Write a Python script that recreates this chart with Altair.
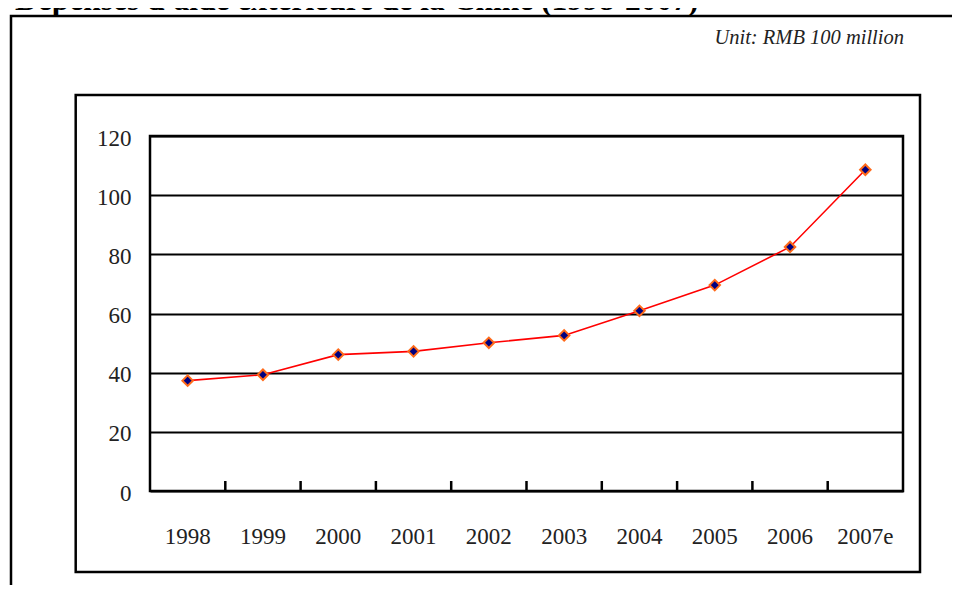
import altair as alt
import pandas as pd

years = ["1998", "1999", "2000", "2001", "2002", "2003", "2004", "2005", "2006", "2007e"]
values = [37.3, 39.3, 46.1, 47.2, 50.1, 52.6, 60.9, 69.6, 82.5, 108.6]
y_ticks = [0, 20, 40, 60, 80, 100, 120]
title_text = "Dépenses d'aide extérieure de la Chine (1998-2007)"
unit_text = "Unit: RMB 100 million"

df = pd.DataFrame({"year": years, "value": values})

W, H = 753, 355
FONT = "Liberation Serif"

xenc = alt.X("year:N", sort=years, bandPosition=0.5,
             scale=alt.Scale(type="band", paddingInner=0, paddingOuter=0),
             axis=alt.Axis(title=None, labelAngle=0, ticks=False, tickSize=0, domain=False,
                           grid=False, labelFont=FONT, labelFontSize=23,
                           labelColor="#222222", labelPadding=52,
                           labelBaseline="alphabetic"))
yenc = alt.Y("value:Q", scale=alt.Scale(domain=[0, 120], nice=False, zero=True),
             axis=alt.Axis(title=None, values=y_ticks, ticks=False, tickSize=0, domain=False,
                           grid=True, gridColor="black", gridWidth=2, gridOpacity=1,
                           labelFont=FONT, labelFontSize=23, labelColor="#222222",
                           labelPadding=19, labelOffset=2))

one = pd.DataFrame({"k": [0]})

outer = alt.Chart(one).mark_rect(fillOpacity=0, stroke="black", strokeWidth=2.5).encode(
    x=alt.value(-139), x2=alt.value(830), y=alt.value(-120), y2=alt.value(470))
inner = alt.Chart(one).mark_rect(fillOpacity=0, stroke="black", strokeWidth=2.5).encode(
    x=alt.value(-74.3), x2=alt.value(770), y=alt.value(-41), y2=alt.value(436))

title = alt.Chart(one).mark_text(text=title_text, font=FONT, fontWeight="bold", fontSize=31.5,
                                 align="left", baseline="alphabetic", color="black").encode(
    x=alt.value(-135), y=alt.value(-126.5))
unit = alt.Chart(one).mark_text(text=unit_text, font=FONT, fontStyle="italic", fontSize=20.5,
                                align="right", baseline="alphabetic", color="#222222").encode(
    x=alt.value(754), y=alt.value(-92))

base = alt.Chart(df)
line = base.mark_line(color="#ff0000", strokeWidth=1.6).encode(x=xenc, y=yenc)
points = base.mark_point(shape="diamond", filled=True, fill="#000080", stroke="#ff6a1a",
                         strokeWidth=2, size=110, opacity=1).encode(x=xenc, y=yenc)
ticks = base.transform_filter(alt.datum.year != years[0]).mark_rule(
    color="black", strokeWidth=2.5).encode(
    x=alt.X("year:N", sort=years, bandPosition=0), y=alt.value(H - 10), y2=alt.value(H))

chart = alt.layer(outer, inner, title, unit, line, ticks, points).properties(
    width=W, height=H,
    background="white",
    autosize=alt.AutoSizeParams(type="none"),
    padding={"left": 142, "top": 128, "right": 49, "bottom": 94},
).configure_view(stroke="black", strokeWidth=2.5)

chart.save("out.html", embed_options={"renderer": "svg", "actions": False})
